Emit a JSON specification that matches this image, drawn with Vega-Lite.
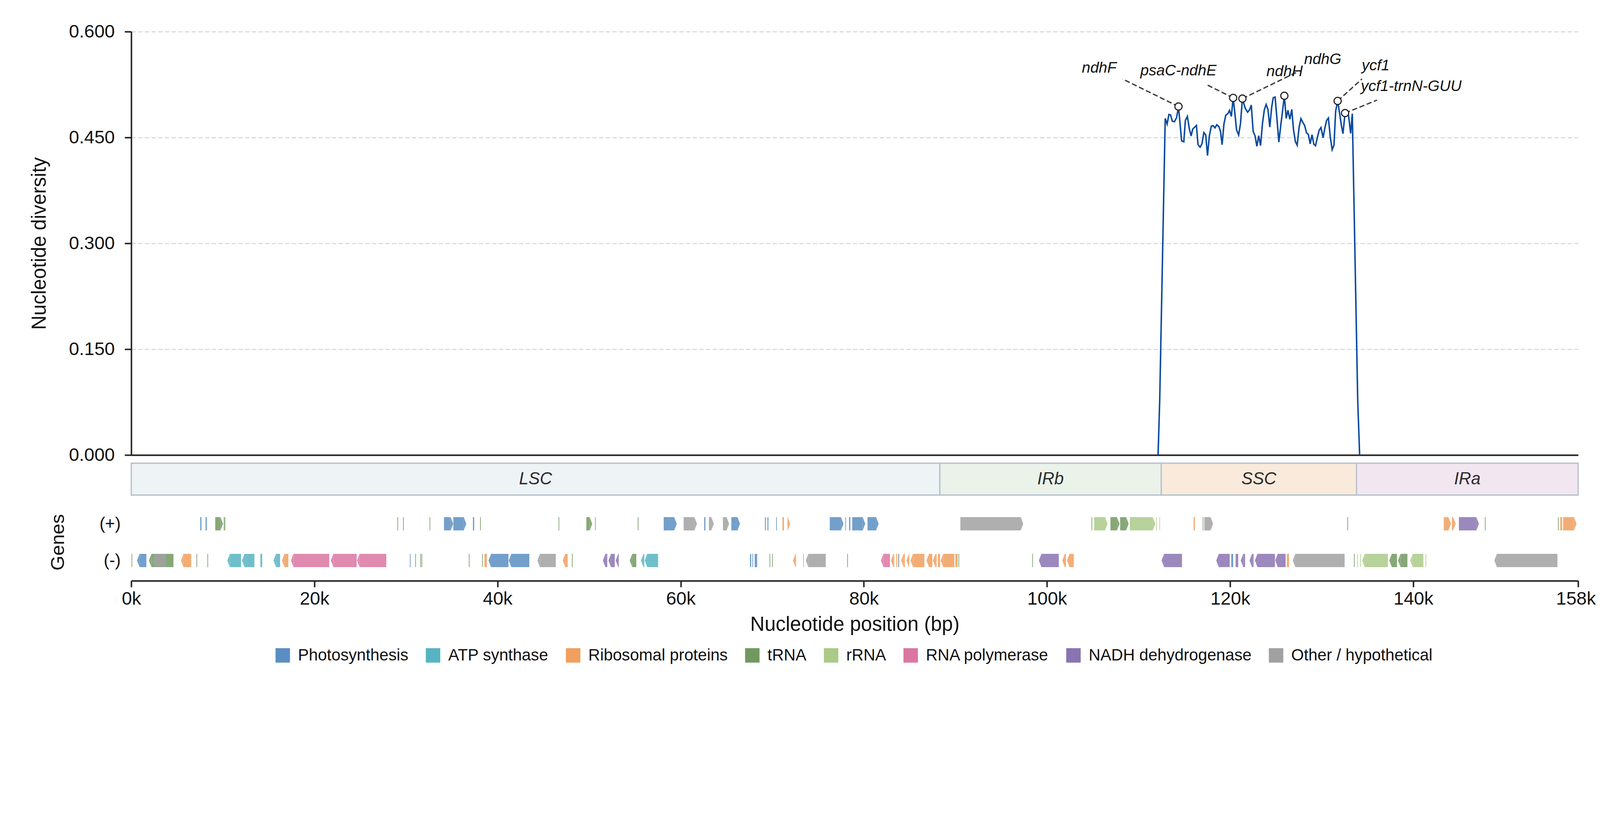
{
  "$schema": "https://vega.github.io/schema/vega-lite/v6.json",
  "background": "white",
  "padding": {"left": 75, "top": 57, "right": 0, "bottom": 0},
  "spacing": 21,
  "bounds": "flush",
  "config": {
    "view": {"stroke": null},
    "font": "Liberation Sans",
    "axis": {"labelFont": "Liberation Sans", "titleFont": "Liberation Sans", "titleFontWeight": "normal", "labelColor": "#111", "titleColor": "#111"},
    "legend": {"labelFont": "Liberation Sans"}
  },
  "resolve": {"scale": {"color": "independent"}, "legend": {"color": "independent"}},
  "datasets": {
    "diversity": [
      {"pos": 112130, "pi": 0}, {"pos": 112310, "pi": 0.078}, {"pos": 112910, "pi": 0.477},
      {"pos": 113120, "pi": 0.469}, {"pos": 113310, "pi": 0.4825}, {"pos": 113490, "pi": 0.482},
      {"pos": 113690, "pi": 0.473}, {"pos": 113920, "pi": 0.4724}, {"pos": 114160, "pi": 0.4785},
      {"pos": 114360, "pi": 0.4939}, {"pos": 114700, "pi": 0.4453}, {"pos": 114940, "pi": 0.4439},
      {"pos": 115110, "pi": 0.4741}, {"pos": 115330, "pi": 0.4799}, {"pos": 115550, "pi": 0.4619},
      {"pos": 115740, "pi": 0.4522}, {"pos": 115910, "pi": 0.4619}, {"pos": 116140, "pi": 0.4648},
      {"pos": 116320, "pi": 0.4671}, {"pos": 116490, "pi": 0.44}, {"pos": 116720, "pi": 0.4362},
      {"pos": 116920, "pi": 0.4409}, {"pos": 117130, "pi": 0.457}, {"pos": 117330, "pi": 0.4537},
      {"pos": 117530, "pi": 0.4243}, {"pos": 117730, "pi": 0.4522}, {"pos": 117940, "pi": 0.4659},
      {"pos": 118140, "pi": 0.4668}, {"pos": 118340, "pi": 0.4636}, {"pos": 118540, "pi": 0.468},
      {"pos": 118770, "pi": 0.4654}, {"pos": 118950, "pi": 0.4584}, {"pos": 119120, "pi": 0.4397},
      {"pos": 119320, "pi": 0.4689}, {"pos": 119520, "pi": 0.4815}, {"pos": 119750, "pi": 0.4837},
      {"pos": 119930, "pi": 0.4884}, {"pos": 120130, "pi": 0.4799}, {"pos": 120330, "pi": 0.5061},
      {"pos": 120520, "pi": 0.4837}, {"pos": 120700, "pi": 0.4609}, {"pos": 120930, "pi": 0.4535},
      {"pos": 121130, "pi": 0.4698}, {"pos": 121340, "pi": 0.5051}, {"pos": 121640, "pi": 0.4916},
      {"pos": 121910, "pi": 0.4858}, {"pos": 122110, "pi": 0.489}, {"pos": 122310, "pi": 0.496},
      {"pos": 122510, "pi": 0.4589}, {"pos": 122720, "pi": 0.4522}, {"pos": 122920, "pi": 0.4374},
      {"pos": 123120, "pi": 0.4526}, {"pos": 123320, "pi": 0.4386}, {"pos": 123530, "pi": 0.4698},
      {"pos": 123730, "pi": 0.489}, {"pos": 123930, "pi": 0.4968}, {"pos": 124130, "pi": 0.4898},
      {"pos": 124330, "pi": 0.4648}, {"pos": 124540, "pi": 0.4934}, {"pos": 124710, "pi": 0.5065},
      {"pos": 124910, "pi": 0.5073}, {"pos": 125110, "pi": 0.4767}, {"pos": 125320, "pi": 0.4435},
      {"pos": 125520, "pi": 0.4662}, {"pos": 125720, "pi": 0.4872}, {"pos": 125920, "pi": 0.5091},
      {"pos": 126120, "pi": 0.4771}, {"pos": 126310, "pi": 0.4886}, {"pos": 126520, "pi": 0.4758},
      {"pos": 126730, "pi": 0.4898}, {"pos": 126920, "pi": 0.461}, {"pos": 127120, "pi": 0.4444},
      {"pos": 127320, "pi": 0.4391}, {"pos": 127530, "pi": 0.4645}, {"pos": 127730, "pi": 0.4767},
      {"pos": 127930, "pi": 0.4715}, {"pos": 128130, "pi": 0.4671}, {"pos": 128340, "pi": 0.4567},
      {"pos": 128540, "pi": 0.4543}, {"pos": 128740, "pi": 0.4409}, {"pos": 128940, "pi": 0.454},
      {"pos": 129140, "pi": 0.4404}, {"pos": 129320, "pi": 0.4383}, {"pos": 129520, "pi": 0.4496},
      {"pos": 129720, "pi": 0.4601}, {"pos": 129920, "pi": 0.4641}, {"pos": 130150, "pi": 0.4496},
      {"pos": 130330, "pi": 0.4627}, {"pos": 130530, "pi": 0.4741}, {"pos": 130730, "pi": 0.4776},
      {"pos": 130930, "pi": 0.4514}, {"pos": 131140, "pi": 0.4327}, {"pos": 131340, "pi": 0.4391},
      {"pos": 131520, "pi": 0.4872}, {"pos": 131740, "pi": 0.5018}, {"pos": 131940, "pi": 0.4855},
      {"pos": 132150, "pi": 0.4671}, {"pos": 132320, "pi": 0.4554}, {"pos": 132550, "pi": 0.4846},
      {"pos": 132930, "pi": 0.4811}, {"pos": 133160, "pi": 0.4558}, {"pos": 133340, "pi": 0.4837},
      {"pos": 133930, "pi": 0.078}, {"pos": 134140, "pi": 0}
    ],
    "peaks": [
      {"gene": "ndhF", "peak_pos": 114360, "peak_pi": 0.4939, "label_pos": 105700, "label_pi": 0.542, "lead_pos": 108250, "lead_pi": 0.5329},
      {"gene": "psaC-ndhE", "peak_pos": 120330, "peak_pi": 0.5061, "label_pos": 114350, "label_pi": 0.538, "lead_pos": 117500, "lead_pi": 0.5245},
      {"gene": "ndhH", "peak_pos": 121340, "peak_pi": 0.5051, "label_pos": 125950, "label_pi": 0.537, "lead_pos": 127400, "lead_pi": 0.5433},
      {"gene": "ndhG", "peak_pos": 125920, "peak_pi": 0.5091, "label_pos": 130110, "label_pi": 0.5538, "lead_pos": null, "lead_pi": null},
      {"gene": "ycf1", "peak_pos": 131740, "peak_pi": 0.5018, "label_pos": 135890, "label_pi": 0.5454, "lead_pos": 134400, "lead_pi": 0.533},
      {"gene": "ycf1-trnN-GUU", "peak_pos": 132550, "peak_pi": 0.4846, "label_pos": 139770, "label_pi": 0.516, "lead_pos": 136040, "lead_pi": 0.503}
    ],
    "regions": [
      {"region": "LSC", "start": 0, "end": 88300},
      {"region": "IRb", "start": 88300, "end": 112480},
      {"region": "SSC", "start": 112480, "end": 133800},
      {"region": "IRa", "start": 133800, "end": 158000}
    ],
    "genes": [
      {"start": 7530, "end": 7670, "strand": 1, "category": "Photosynthesis"},
      {"start": 8110, "end": 8250, "strand": 1, "category": "Photosynthesis"},
      {"start": 9170, "end": 10020, "strand": 1, "category": "tRNA"},
      {"start": 10100, "end": 10180, "strand": 1, "category": "tRNA"},
      {"start": 10200, "end": 10270, "strand": 1, "category": "tRNA"},
      {"start": 29060, "end": 29140, "strand": 1, "category": "tRNA"},
      {"start": 29680, "end": 29760, "strand": 1, "category": "Photosynthesis"},
      {"start": 32570, "end": 32650, "strand": 1, "category": "tRNA"},
      {"start": 34150, "end": 35160, "strand": 1, "category": "Photosynthesis"},
      {"start": 35170, "end": 36590, "strand": 1, "category": "Photosynthesis"},
      {"start": 37310, "end": 37450, "strand": 1, "category": "Photosynthesis"},
      {"start": 38090, "end": 38170, "strand": 1, "category": "tRNA"},
      {"start": 46660, "end": 46740, "strand": 1, "category": "tRNA"},
      {"start": 49700, "end": 50340, "strand": 1, "category": "tRNA"},
      {"start": 50650, "end": 50720, "strand": 1, "category": "tRNA"},
      {"start": 55310, "end": 55390, "strand": 1, "category": "tRNA"},
      {"start": 58140, "end": 59570, "strand": 1, "category": "Photosynthesis"},
      {"start": 60320, "end": 61780, "strand": 1, "category": "Other / hypothetical"},
      {"start": 62560, "end": 62700, "strand": 1, "category": "Photosynthesis"},
      {"start": 63080, "end": 63620, "strand": 1, "category": "Other / hypothetical"},
      {"start": 64610, "end": 65290, "strand": 1, "category": "Other / hypothetical"},
      {"start": 65530, "end": 66480, "strand": 1, "category": "Photosynthesis"},
      {"start": 69200, "end": 69300, "strand": 1, "category": "Photosynthesis"},
      {"start": 69470, "end": 69580, "strand": 1, "category": "Photosynthesis"},
      {"start": 70420, "end": 70500, "strand": 1, "category": "Photosynthesis"},
      {"start": 71110, "end": 71280, "strand": 1, "category": "Ribosomal proteins"},
      {"start": 71650, "end": 71960, "strand": 1, "category": "Ribosomal proteins"},
      {"start": 76280, "end": 77780, "strand": 1, "category": "Photosynthesis"},
      {"start": 77980, "end": 78050, "strand": 1, "category": "Photosynthesis"},
      {"start": 78390, "end": 78530, "strand": 1, "category": "Photosynthesis"},
      {"start": 78730, "end": 80160, "strand": 1, "category": "Photosynthesis"},
      {"start": 80400, "end": 81620, "strand": 1, "category": "Photosynthesis"},
      {"start": 90540, "end": 97410, "strand": 1, "category": "Other / hypothetical"},
      {"start": 104860, "end": 104940, "strand": 1, "category": "tRNA"},
      {"start": 105150, "end": 106620, "strand": 1, "category": "rRNA"},
      {"start": 106930, "end": 107920, "strand": 1, "category": "tRNA"},
      {"start": 107990, "end": 108920, "strand": 1, "category": "tRNA"},
      {"start": 109050, "end": 111830, "strand": 1, "category": "rRNA"},
      {"start": 111930, "end": 112000, "strand": 1, "category": "rRNA"},
      {"start": 112270, "end": 112340, "strand": 1, "category": "rRNA"},
      {"start": 116010, "end": 116150, "strand": 1, "category": "Ribosomal proteins"},
      {"start": 117000, "end": 117080, "strand": 1, "category": "tRNA"},
      {"start": 117180, "end": 118140, "strand": 1, "category": "Other / hypothetical"},
      {"start": 132800, "end": 132880, "strand": 1, "category": "tRNA"},
      {"start": 143330, "end": 144120, "strand": 1, "category": "Ribosomal proteins"},
      {"start": 144220, "end": 144630, "strand": 1, "category": "Ribosomal proteins"},
      {"start": 144980, "end": 147170, "strand": 1, "category": "NADH dehydrogenase"},
      {"start": 147820, "end": 147900, "strand": 1, "category": "tRNA"},
      {"start": 155800, "end": 155880, "strand": 1, "category": "tRNA"},
      {"start": 156050, "end": 156260, "strand": 1, "category": "Ribosomal proteins"},
      {"start": 156360, "end": 157830, "strand": 1, "category": "Ribosomal proteins"},
      {"start": 30, "end": 110, "strand": -1, "category": "tRNA"},
      {"start": 630, "end": 1650, "strand": -1, "category": "Photosynthesis"},
      {"start": 1920, "end": 4610, "strand": -1, "category": "tRNA"},
      {"start": 2330, "end": 3790, "strand": -1, "category": "Other / hypothetical"},
      {"start": 5420, "end": 6550, "strand": -1, "category": "Ribosomal proteins"},
      {"start": 7120, "end": 7200, "strand": -1, "category": "tRNA"},
      {"start": 8310, "end": 8390, "strand": -1, "category": "tRNA"},
      {"start": 10490, "end": 11990, "strand": -1, "category": "ATP synthase"},
      {"start": 12090, "end": 13450, "strand": -1, "category": "ATP synthase"},
      {"start": 14100, "end": 14300, "strand": -1, "category": "ATP synthase"},
      {"start": 15530, "end": 16250, "strand": -1, "category": "ATP synthase"},
      {"start": 16450, "end": 17160, "strand": -1, "category": "Ribosomal proteins"},
      {"start": 17440, "end": 21620, "strand": -1, "category": "RNA polymerase"},
      {"start": 21790, "end": 24620, "strand": -1, "category": "RNA polymerase"},
      {"start": 24650, "end": 27850, "strand": -1, "category": "RNA polymerase"},
      {"start": 30430, "end": 30510, "strand": -1, "category": "Photosynthesis"},
      {"start": 31010, "end": 31090, "strand": -1, "category": "tRNA"},
      {"start": 31550, "end": 31630, "strand": -1, "category": "tRNA"},
      {"start": 31690, "end": 31770, "strand": -1, "category": "tRNA"},
      {"start": 36860, "end": 36940, "strand": -1, "category": "tRNA"},
      {"start": 38320, "end": 38400, "strand": -1, "category": "tRNA"},
      {"start": 38570, "end": 38840, "strand": -1, "category": "Ribosomal proteins"},
      {"start": 39010, "end": 41190, "strand": -1, "category": "Photosynthesis"},
      {"start": 41220, "end": 43470, "strand": -1, "category": "Photosynthesis"},
      {"start": 44350, "end": 46360, "strand": -1, "category": "Other / hypothetical"},
      {"start": 47110, "end": 47660, "strand": -1, "category": "Ribosomal proteins"},
      {"start": 48120, "end": 48200, "strand": -1, "category": "tRNA"},
      {"start": 51500, "end": 51980, "strand": -1, "category": "NADH dehydrogenase"},
      {"start": 52110, "end": 52800, "strand": -1, "category": "NADH dehydrogenase"},
      {"start": 52900, "end": 53240, "strand": -1, "category": "NADH dehydrogenase"},
      {"start": 54430, "end": 55150, "strand": -1, "category": "tRNA"},
      {"start": 55660, "end": 56030, "strand": -1, "category": "ATP synthase"},
      {"start": 56070, "end": 57530, "strand": -1, "category": "ATP synthase"},
      {"start": 67570, "end": 67700, "strand": -1, "category": "Photosynthesis"},
      {"start": 67830, "end": 67910, "strand": -1, "category": "Photosynthesis"},
      {"start": 68080, "end": 68350, "strand": -1, "category": "Photosynthesis"},
      {"start": 69700, "end": 69780, "strand": -1, "category": "tRNA"},
      {"start": 69980, "end": 70060, "strand": -1, "category": "tRNA"},
      {"start": 72260, "end": 72600, "strand": -1, "category": "Ribosomal proteins"},
      {"start": 73380, "end": 73460, "strand": -1, "category": "Ribosomal proteins"},
      {"start": 73660, "end": 75840, "strand": -1, "category": "Other / hypothetical"},
      {"start": 78180, "end": 78260, "strand": -1, "category": "Photosynthesis"},
      {"start": 81860, "end": 82850, "strand": -1, "category": "RNA polymerase"},
      {"start": 82950, "end": 83320, "strand": -1, "category": "Ribosomal proteins"},
      {"start": 83530, "end": 83630, "strand": -1, "category": "Ribosomal proteins"},
      {"start": 83730, "end": 83870, "strand": -1, "category": "Other / hypothetical"},
      {"start": 84070, "end": 84480, "strand": -1, "category": "Ribosomal proteins"},
      {"start": 84650, "end": 84960, "strand": -1, "category": "Ribosomal proteins"},
      {"start": 85090, "end": 86620, "strand": -1, "category": "Ribosomal proteins"},
      {"start": 86830, "end": 87480, "strand": -1, "category": "Ribosomal proteins"},
      {"start": 87540, "end": 87950, "strand": -1, "category": "Ribosomal proteins"},
      {"start": 88090, "end": 88330, "strand": -1, "category": "Ribosomal proteins"},
      {"start": 88390, "end": 89890, "strand": -1, "category": "Ribosomal proteins"},
      {"start": 89990, "end": 90230, "strand": -1, "category": "Ribosomal proteins"},
      {"start": 90330, "end": 90410, "strand": -1, "category": "tRNA"},
      {"start": 98390, "end": 98470, "strand": -1, "category": "tRNA"},
      {"start": 99110, "end": 101290, "strand": -1, "category": "NADH dehydrogenase"},
      {"start": 101670, "end": 102070, "strand": -1, "category": "Ribosomal proteins"},
      {"start": 102180, "end": 102920, "strand": -1, "category": "Ribosomal proteins"},
      {"start": 112510, "end": 114740, "strand": -1, "category": "NADH dehydrogenase"},
      {"start": 118480, "end": 119950, "strand": -1, "category": "NADH dehydrogenase"},
      {"start": 120120, "end": 120330, "strand": -1, "category": "Photosynthesis"},
      {"start": 120600, "end": 120880, "strand": -1, "category": "NADH dehydrogenase"},
      {"start": 121150, "end": 121630, "strand": -1, "category": "NADH dehydrogenase"},
      {"start": 122110, "end": 122560, "strand": -1, "category": "NADH dehydrogenase"},
      {"start": 122700, "end": 124890, "strand": -1, "category": "NADH dehydrogenase"},
      {"start": 124920, "end": 126060, "strand": -1, "category": "NADH dehydrogenase"},
      {"start": 126190, "end": 126430, "strand": -1, "category": "Ribosomal proteins"},
      {"start": 126840, "end": 132500, "strand": -1, "category": "Other / hypothetical"},
      {"start": 133520, "end": 133600, "strand": -1, "category": "tRNA"},
      {"start": 133870, "end": 133940, "strand": -1, "category": "rRNA"},
      {"start": 134210, "end": 134280, "strand": -1, "category": "rRNA"},
      {"start": 134420, "end": 137230, "strand": -1, "category": "rRNA"},
      {"start": 137370, "end": 138220, "strand": -1, "category": "tRNA"},
      {"start": 138330, "end": 139360, "strand": -1, "category": "tRNA"},
      {"start": 139660, "end": 141100, "strand": -1, "category": "rRNA"},
      {"start": 141340, "end": 141420, "strand": -1, "category": "rRNA"},
      {"start": 148850, "end": 155740, "strand": -1, "category": "Other / hypothetical"}
    ]
  },
  "vconcat": [
    {
      "width": 3704,
      "height": 1084,
      "layer": [
        {
          "data": {"name": "diversity"},
          "mark": {"type": "line", "color": "#0b4a9f", "strokeWidth": 3.8},
          "encoding": {
            "x": {
              "field": "pos", "type": "quantitative",
              "scale": {"domain": [0, 158000], "nice": false, "zero": false},
              "axis": {"labels": false, "ticks": false, "grid": false, "title": null, "domainColor": "#222", "domainWidth": 3.8}
            },
            "y": {
              "field": "pi", "type": "quantitative",
              "scale": {"domain": [0, 0.6], "nice": false},
              "axis": {
                "values": [0, 0.15, 0.3, 0.45, 0.6], "format": ".3f",
                "title": "Nucleotide diversity", "titleFontSize": 51, "titlePadding": 48,
                "labelFontSize": 47, "labelPadding": 25.5,
                "domainColor": "#222", "domainWidth": 3.8,
                "tickColor": "#222", "tickWidth": 3.8, "tickSize": 17,
                "grid": true, "gridColor": "#d6dde3", "gridDash": [11.4, 5.7], "gridWidth": 3.1
              }
            }
          }
        },
        {
          "data": {"name": "peaks"},
          "transform": [{"filter": "datum.lead_pos != null"}],
          "mark": {"type": "rule", "color": "#3a3a3a", "strokeWidth": 3.3, "strokeDash": [13.3, 6.6]},
          "encoding": {
            "x": {"field": "peak_pos", "type": "quantitative"},
            "y": {"field": "peak_pi", "type": "quantitative"},
            "x2": {"field": "lead_pos"},
            "y2": {"field": "lead_pi"}
          }
        },
        {
          "data": {"name": "peaks"},
          "mark": {"type": "point", "shape": "circle", "filled": true, "fill": "white", "stroke": "#222", "strokeWidth": 2.85, "size": 341, "opacity": 1},
          "encoding": {
            "x": {"field": "peak_pos", "type": "quantitative"},
            "y": {"field": "peak_pi", "type": "quantitative"}
          }
        },
        {
          "data": {"name": "peaks"},
          "mark": {"type": "text", "fontStyle": "italic", "fontSize": 39, "align": "center", "baseline": "alphabetic", "color": "#111"},
          "encoding": {
            "x": {"field": "label_pos", "type": "quantitative"},
            "y": {"field": "label_pi", "type": "quantitative"},
            "text": {"field": "gene"}
          }
        }
      ]
    },
    {
      "width": 3704,
      "height": 81.5,
      "data": {"name": "regions"},
      "layer": [
        {
          "mark": {"type": "rect", "stroke": "#b8c2cc", "strokeWidth": 3.3},
          "encoding": {
            "x": {"field": "start", "type": "quantitative", "scale": {"domain": [0, 158000], "nice": false, "zero": false}, "axis": null},
            "x2": {"field": "end"},
            "color": {
              "field": "region", "type": "nominal",
              "scale": {"domain": ["LSC", "IRb", "SSC", "IRa"], "range": ["#eef3f6", "#ebf2ea", "#f9eadb", "#f2e7f1"]},
              "legend": null
            }
          }
        },
        {
          "transform": [{"fold": ["start", "end"]}],
          "mark": {"type": "text", "fontStyle": "italic", "fontSize": 43.5, "color": "#2b2b2b", "baseline": "middle"},
          "encoding": {
            "x": {"aggregate": "mean", "field": "value", "type": "quantitative"},
            "text": {"field": "region"}
          }
        }
      ]
    },
    {
      "width": 3704,
      "height": 198,
      "data": {"name": "genes"},
      "encoding": {
        "x": {
          "field": "start", "type": "quantitative",
          "scale": {"domain": [0, 158000], "nice": false, "zero": false},
          "axis": {
            "values": [0, 20000, 40000, 60000, 80000, 100000, 120000, 140000, 158000], "format": "~s",
            "title": "Nucleotide position (bp)", "titleFontSize": 51, "titlePadding": 18,
            "labelFontSize": 47, "labelPadding": 7.5, "labelFlush": false, "labelOverlap": false,
            "labelOffset": {"condition": {"test": "datum.value >= 158000", "value": -6}, "value": 0},
            "domainColor": "#222", "domainWidth": 3.8, "tickColor": "#222", "tickWidth": 3.8, "tickSize": 16, "grid": false
          }
        },
        "x2": {"field": "end"},
        "y": {
          "field": "strand", "type": "quantitative",
          "scale": {"domain": [-2, 2], "nice": false},
          "axis": {
            "values": [-1, 1], "labelExpr": "datum.value > 0 ? '(+)' : '(-)'",
            "ticks": false, "domain": false, "grid": false,
            "labelFontSize": 43.5, "labelPadding": 27.5,
            "title": "Genes", "titleFontSize": 49, "titlePadding": 80.5
          }
        },
        "color": {
          "field": "category", "type": "nominal",
          "scale": {
            "domain": ["Photosynthesis", "ATP synthase", "Ribosomal proteins", "tRNA", "rRNA", "RNA polymerase", "NADH dehydrogenase", "Other / hypothetical"],
            "range": ["#5a8ec2", "#56b4c2", "#f09f5e", "#71995f", "#aaca88", "#db76a2", "#8973b1", "#a1a1a1"]
          },
          "legend": {
            "orient": "none", "legendX": 367, "legendY": 368, "direction": "horizontal", "columns": 8,
            "title": null, "symbolType": "square", "symbolSize": 1369, "symbolOpacity": 1, "symbolStrokeWidth": 0,
            "labelFontSize": 41.7, "labelColor": "#111", "labelOffset": 18, "labelLimit": 2000, "columnPadding": 41.7, "padding": 0
          }
        }
      },
      "layer": [
        {
          "data": {"values": [{}]},
          "mark": {"type": "rule", "strokeWidth": 3.8},
          "encoding": {
            "x": {"datum": 0, "type": "quantitative"},
            "x2": {"datum": 158000},
            "y": {"datum": 0, "type": "quantitative"},
            "color": {"value": "#333"}
          }
        },
        {
          "transform": [{"filter": "datum.strand > 0 && datum.end - datum.start >= 300"}],
          "mark": {"type": "bar", "height": 34, "x2Offset": -6.6, "opacity": 0.85}
        },
        {
          "transform": [{"filter": "datum.strand < 0 && datum.end - datum.start >= 300"}],
          "mark": {"type": "bar", "height": 34, "xOffset": 6.6, "opacity": 0.85}
        },
        {
          "transform": [{"filter": "datum.end - datum.start < 300"}],
          "mark": {"type": "bar", "height": 34, "opacity": 0.85}
        },
        {
          "transform": [{"filter": "datum.strand > 0 && datum.end - datum.start >= 300"}],
          "mark": {"type": "point", "shape": "M -0.19 -1 L 0.19 0 L -0.19 1 Z", "size": 1156, "filled": true, "opacity": 0.85, "strokeWidth": 0, "xOffset": -3.3},
          "encoding": {"x": {"field": "end", "type": "quantitative", "title": "Nucleotide position (bp)"}}
        },
        {
          "transform": [{"filter": "datum.strand < 0 && datum.end - datum.start >= 300"}],
          "mark": {"type": "point", "shape": "M 0.19 -1 L -0.19 0 L 0.19 1 Z", "size": 1156, "filled": true, "opacity": 0.85, "strokeWidth": 0, "xOffset": 3.3}
        }
      ]
    }
  ]
}
